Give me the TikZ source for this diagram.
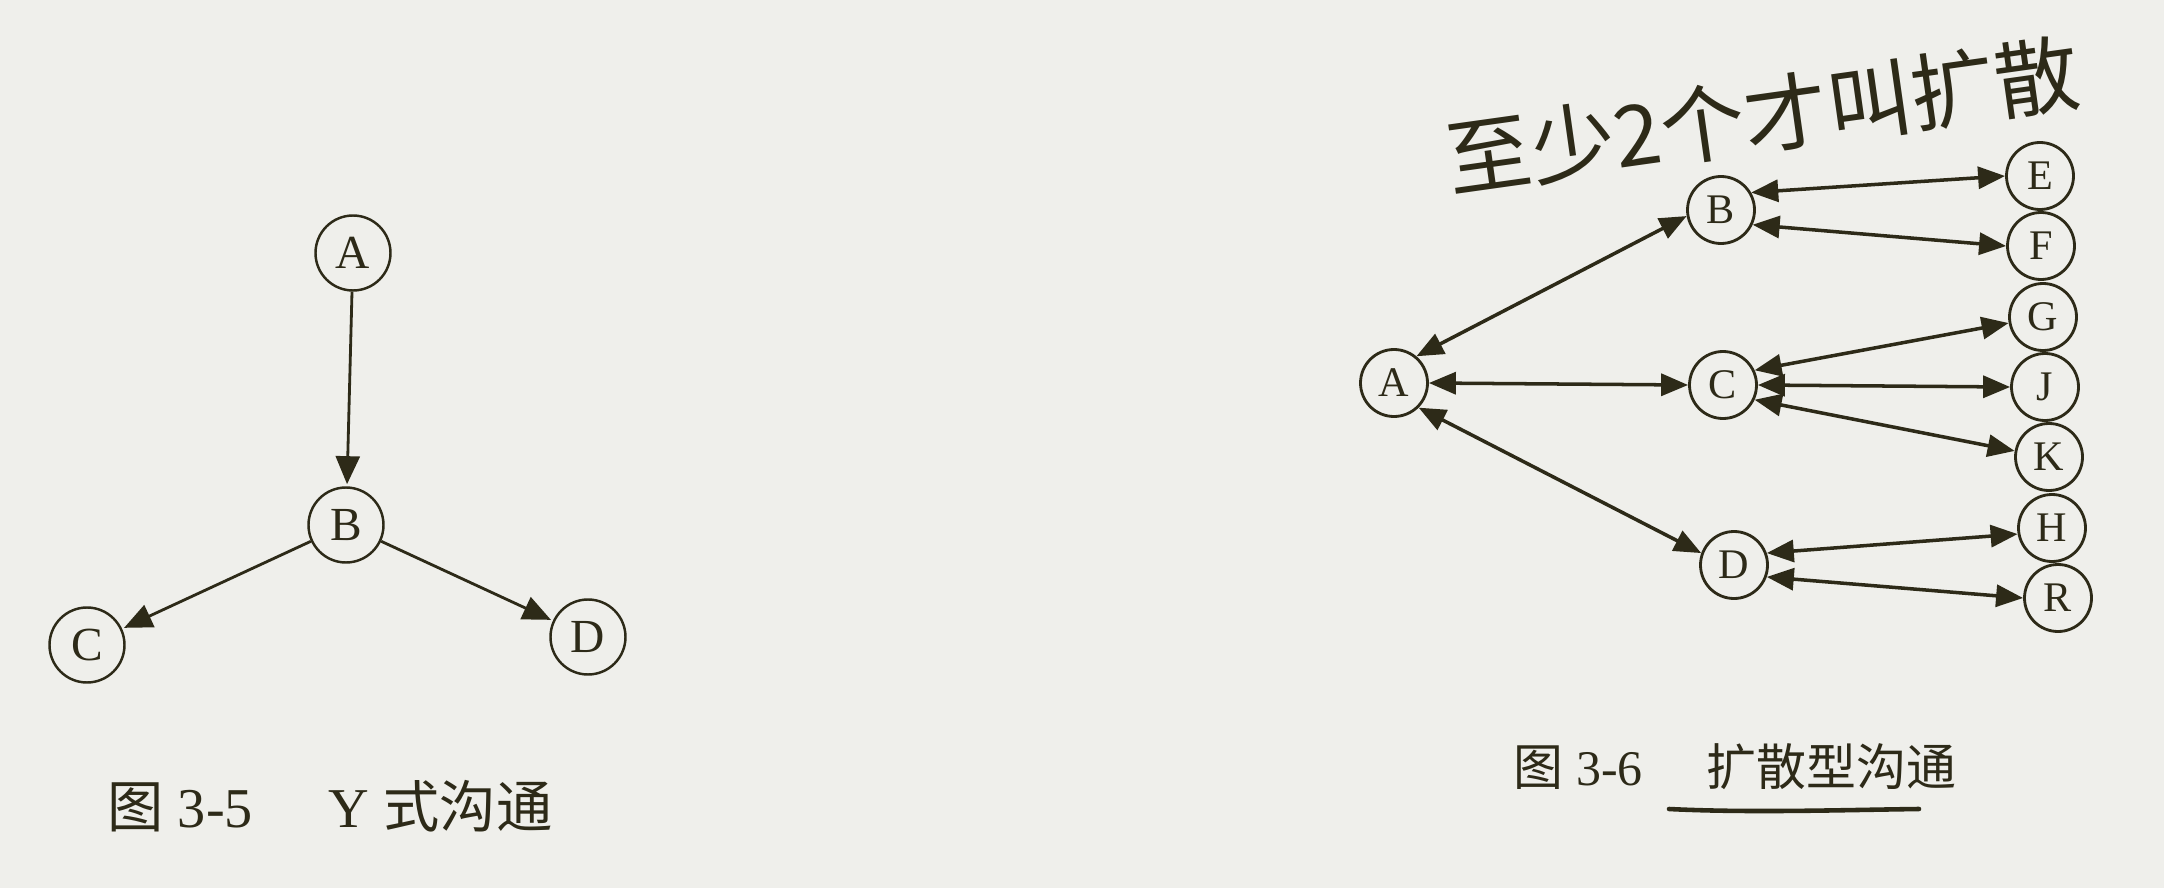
\documentclass[tikz,border=0pt]{standalone}
\usepackage{fontspec}
\setmainfont{Liberation Serif}
\newfontfamily\cjk{Noto Sans CJK SC}
\usepackage{tikz}
\usetikzlibrary{arrows.meta}
\usetikzlibrary{positioning}
\definecolor{ink}{RGB}{45,42,24}
\definecolor{paper}{RGB}{239,239,235}
\tikzstyle{member} = [circle, draw=ink, text=ink, line width=0.7pt, inner sep=0pt, minimum size=0.75cm, font=\fontsize{13.5}{14}\selectfont]
\tikzstyle{fanmember} = [member, line width=0.8pt, minimum size=0.67cm, font=\fontsize{12}{13}\selectfont]
\tikzstyle{oneway} = [draw=ink, line width=0.8pt, shorten >=0.6pt, -{Triangle[length=2.8mm,width=2.4mm]}]
\tikzstyle{twoway} = [draw=ink, line width=1pt, {Triangle[length=2.7mm,width=2.2mm]}-{Triangle[length=2.7mm,width=2.2mm]}]

\begin{document}
\begin{tikzpicture}
	\fill[paper] (0,0) rectangle (21.64,8.88);

	\node[member] (Y-A) at (3.53,6.35) {A};
	\node[member] at ([xshift=-0.07cm, yshift=-2.72cm]Y-A.center) (Y-B) {B};
	\node[member] at ([xshift=-2.59cm, yshift=-1.20cm]Y-B.center) (Y-C) {C};
	\node[member] at ([xshift=2.42cm, yshift=-1.12cm]Y-B.center) (Y-D) {D};

	\draw[oneway] (Y-A) -- (Y-B);
	\draw[oneway] (Y-B) -- (Y-C);
	\draw[oneway] (Y-B) -- (Y-D);

	\node[fanmember] (Fan-A) at (13.94,5.05) {A};
	\node[fanmember] at ([xshift=3.27cm, yshift=1.73cm]Fan-A.center) (Fan-B) {B};
	\node[fanmember] at ([xshift=3.29cm, yshift=-0.02cm]Fan-A.center) (Fan-C) {C};
	\node[fanmember] at ([xshift=3.40cm, yshift=-1.82cm]Fan-A.center) (Fan-D) {D};

	\node[fanmember] (Fan-E) at (20.40,7.12) {E};
	\node[fanmember] at ([xshift=0.01cm, yshift=-0.70cm]Fan-E.center) (Fan-F) {F};
	\node[fanmember] at ([xshift=0.02cm, yshift=-0.71cm]Fan-F.center) (Fan-G) {G};
	\node[fanmember] at ([xshift=0.02cm, yshift=-0.70cm]Fan-G.center) (Fan-J) {J};
	\node[fanmember] at ([xshift=0.04cm, yshift=-0.70cm]Fan-J.center) (Fan-K) {K};
	\node[fanmember] at ([xshift=0.03cm, yshift=-0.71cm]Fan-K.center) (Fan-H) {H};
	\node[fanmember] at ([xshift=0.06cm, yshift=-0.70cm]Fan-H.center) (Fan-R) {R};

	\draw[twoway] (Fan-A.50) -- (Fan-B.190);
	\draw[twoway] (Fan-A.east) -- (Fan-C.west);
	\draw[twoway] (Fan-A.-45) -- (Fan-D.160);
	\draw[twoway] (Fan-B.30) -- (Fan-E.west);
	\draw[twoway] (Fan-B.-25) -- (Fan-F.west);
	\draw[twoway] (Fan-C.25) -- (Fan-G.190);
	\draw[twoway] (Fan-C.east) -- (Fan-J.west);
	\draw[twoway] (Fan-C.-25) -- (Fan-K.170);
	\draw[twoway] (Fan-D.20) -- (Fan-H.190);
	\draw[twoway] (Fan-D.-20) -- (Fan-R.west);

	\node[text=ink, font=\fontsize{16}{18}\selectfont] (Cap-Y) at (3.30,0.82) {{\cjk 图} 3-5\hspace{0.76cm}Y {\cjk 式沟通}};
	\node[text=ink, font=\fontsize{14.2}{16}\selectfont] (Cap-Fan) at (17.35,1.21) {{\cjk 图} 3-6\hspace{0.64cm}{\cjk 扩散型沟通}};
	\draw[ink, line width=1.3pt, line cap=round] (16.69,0.79) .. controls (17.5,0.75) and (18.4,0.78) .. (19.19,0.79);

	\node[text=ink, rotate=8, font=\cjk\fontsize{24}{26}\selectfont] (Note) at (17.63,7.72) {至少2个才叫扩散};
\end{tikzpicture}
\end{document}
